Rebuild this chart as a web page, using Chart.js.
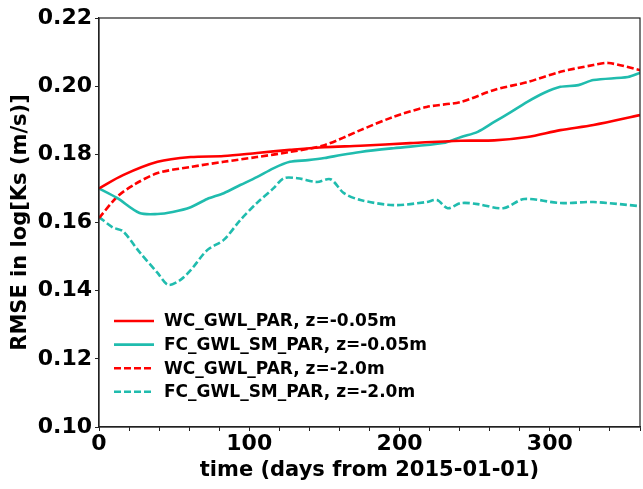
<!DOCTYPE html>
<html>
<head>
<meta charset="utf-8">
<script src="https://cdn.jsdelivr.net/npm/chart.js@4/dist/chart.umd.min.js"></script>
<style>
    html, body { margin: 0; padding: 0; background: #fff; }
    #wrap { width: 643px; height: 489px; }
</style>
</head>
<body>
<div id="wrap"><canvas id="chart" width="643" height="489"></canvas></div>
<script>
// days from 2015-01-01 and RMSE values
const wcShallowDays = [0, 16, 39, 61, 83, 105, 127, 150, 174, 207, 241, 263, 285, 307, 329, 360];
const wcShallow = [0.170, 0.1739, 0.1778, 0.1792, 0.1795, 0.1804, 0.1813, 0.1821, 0.1825, 0.1833, 0.1840, 0.1841, 0.1851, 0.1871, 0.1886, 0.1915];

const fcShallowDays = [0, 12, 27, 39, 49, 61, 72, 83, 94, 105, 116, 127, 139, 150, 161, 174, 196, 229, 241, 252, 263, 274, 285, 296, 307, 319, 329, 352, 360];
const fcShallow = [0.170, 0.1672, 0.1628, 0.1625, 0.1631, 0.1645, 0.1669, 0.1686, 0.171, 0.1733, 0.1759, 0.1778, 0.1783, 0.1789, 0.1798, 0.1807, 0.1818, 0.1833, 0.1851, 0.1866, 0.1895, 0.1924, 0.1954, 0.198, 0.1998, 0.2003, 0.2018, 0.2027, 0.2039];

const wcDeepDays = [0, 12, 23, 39, 61, 83, 105, 127, 150, 174, 196, 218, 241, 263, 285, 307, 329, 339, 360];
const wcDeep = [0.1613, 0.1675, 0.171, 0.1745, 0.1763, 0.1778, 0.1792, 0.1807, 0.1827, 0.1871, 0.191, 0.1939, 0.1954, 0.1989, 0.2012, 0.2042, 0.2062, 0.2068, 0.2047];

const fcDeepDays = [0, 9, 16, 27, 39, 46, 54, 61, 72, 83, 94, 105, 116, 123, 132, 145, 154, 163, 174, 196, 218, 225, 232, 241, 252, 269, 283, 307, 329, 360];
const fcDeep = [0.1616, 0.1586, 0.1574, 0.1513, 0.1452, 0.1417, 0.1431, 0.146, 0.1519, 0.1549, 0.1607, 0.1657, 0.170, 0.173, 0.173, 0.1719, 0.1727, 0.1686, 0.1666, 0.1651, 0.166, 0.1666, 0.1642, 0.1657, 0.1654, 0.1642, 0.1669, 0.1657, 0.166, 0.1648];

const labels = ["WC_GWL_PAR, z=-0.05m", "FC_GWL_SM_PAR, z=-0.05m", "WC_GWL_PAR, z=-2.0m", "FC_GWL_SM_PAR, z=-2.0m"];
const xTicks = [0, 100, 200, 300];
const yTicks = [0.10, 0.12, 0.14, 0.16, 0.18, 0.20, 0.22];

const RED = "#ff0000";
const TEAL = "#20bcae";
const FONT = "'DejaVu Sans', sans-serif";

const toPoints = (xs, ys) => xs.map((x, i) => ({x, y: ys[i]}));

const series = [
    {data: toPoints(wcShallowDays, wcShallow), color: RED, dash: []},
    {data: toPoints(fcShallowDays, fcShallow), color: TEAL, dash: []},
    {data: toPoints(wcDeepDays, wcDeep), color: RED, dash: [7, 3]},
    {data: toPoints(fcDeepDays, fcDeep), color: TEAL, dash: [7, 3]}
];

const datasets = series.map((s, i) => ({
    label: labels[i],
    data: s.data,
    borderColor: s.color,
    backgroundColor: s.color,
    borderDash: s.dash,
    borderWidth: 2.6,
    pointRadius: 0,
    tension: 0.3,
    fill: false
}));

// frame around the plot and the legend inside it
const framePlugin = {
    id: "frame",
    afterDatasetsDraw(chart) {
        const {ctx, chartArea: a} = chart;
        ctx.save();
        ctx.strokeStyle = "#222";
        ctx.lineWidth = 1.2;
        ctx.strokeRect(a.left, a.top, a.right - a.left, a.bottom - a.top);

        ctx.font = "bold 17px " + FONT;
        ctx.textBaseline = "middle";
        datasets.forEach((d, i) => {
            const y = 321 + i * 23.6;
            ctx.beginPath();
            ctx.strokeStyle = d.borderColor;
            ctx.lineWidth = 2.6;
            ctx.setLineDash(d.borderDash);
            ctx.moveTo(114, y);
            ctx.lineTo(154, y);
            ctx.stroke();
            ctx.setLineDash([]);
            ctx.fillStyle = "#000";
            ctx.fillText(d.label, 164, y + 1);
        });
        ctx.restore();
    }
};

new Chart(document.getElementById("chart"), {
    type: "line",
    data: {datasets},
    options: {
        responsive: false,
        animation: false,
        layout: {padding: {top: 18, right: 3, left: 0, bottom: 0}},
        plugins: {legend: {display: false}, tooltip: {enabled: false}},
        scales: {
            x: {
                type: "linear",
                min: 0,
                max: 360,
                afterFit: s => { s.height = 62; },
                ticks: {
                    stepSize: 20,
                    autoSkip: false,
                    maxRotation: 0,
                    padding: 0,
                    color: "#000",
                    font: {family: FONT, size: 22, weight: "bold"},
                    callback: v => xTicks.includes(v) ? String(v) : ""
                },
                grid: {drawOnChartArea: false, tickLength: 4, color: "#222"},
                border: {color: "#222", width: 1.2},
                title: {
                    display: true,
                    text: "time (days from 2015-01-01)",
                    color: "#000",
                    font: {family: FONT, size: 21, weight: "bold"},
                    padding: {top: 0, bottom: 6}
                }
            },
            y: {
                min: 0.10,
                max: 0.22,
                afterFit: s => { s.width = 99; },
                afterBuildTicks: s => { s.ticks = yTicks.map(v => ({value: v})); },
                ticks: {
                    padding: 3,
                    color: "#000",
                    font: {family: FONT, size: 22, weight: "bold"},
                    callback: v => v.toFixed(2)
                },
                grid: {drawOnChartArea: false, tickLength: 4, color: "#222"},
                border: {color: "#222", width: 1.2},
                title: {
                    display: true,
                    text: "RMSE in log[Ks (m/s)]",
                    color: "#000",
                    font: {family: FONT, size: 21, weight: "bold"},
                    padding: {top: 8, bottom: 0}
                }
            }
        }
    },
    plugins: [framePlugin]
});
</script>
</body>
</html>
